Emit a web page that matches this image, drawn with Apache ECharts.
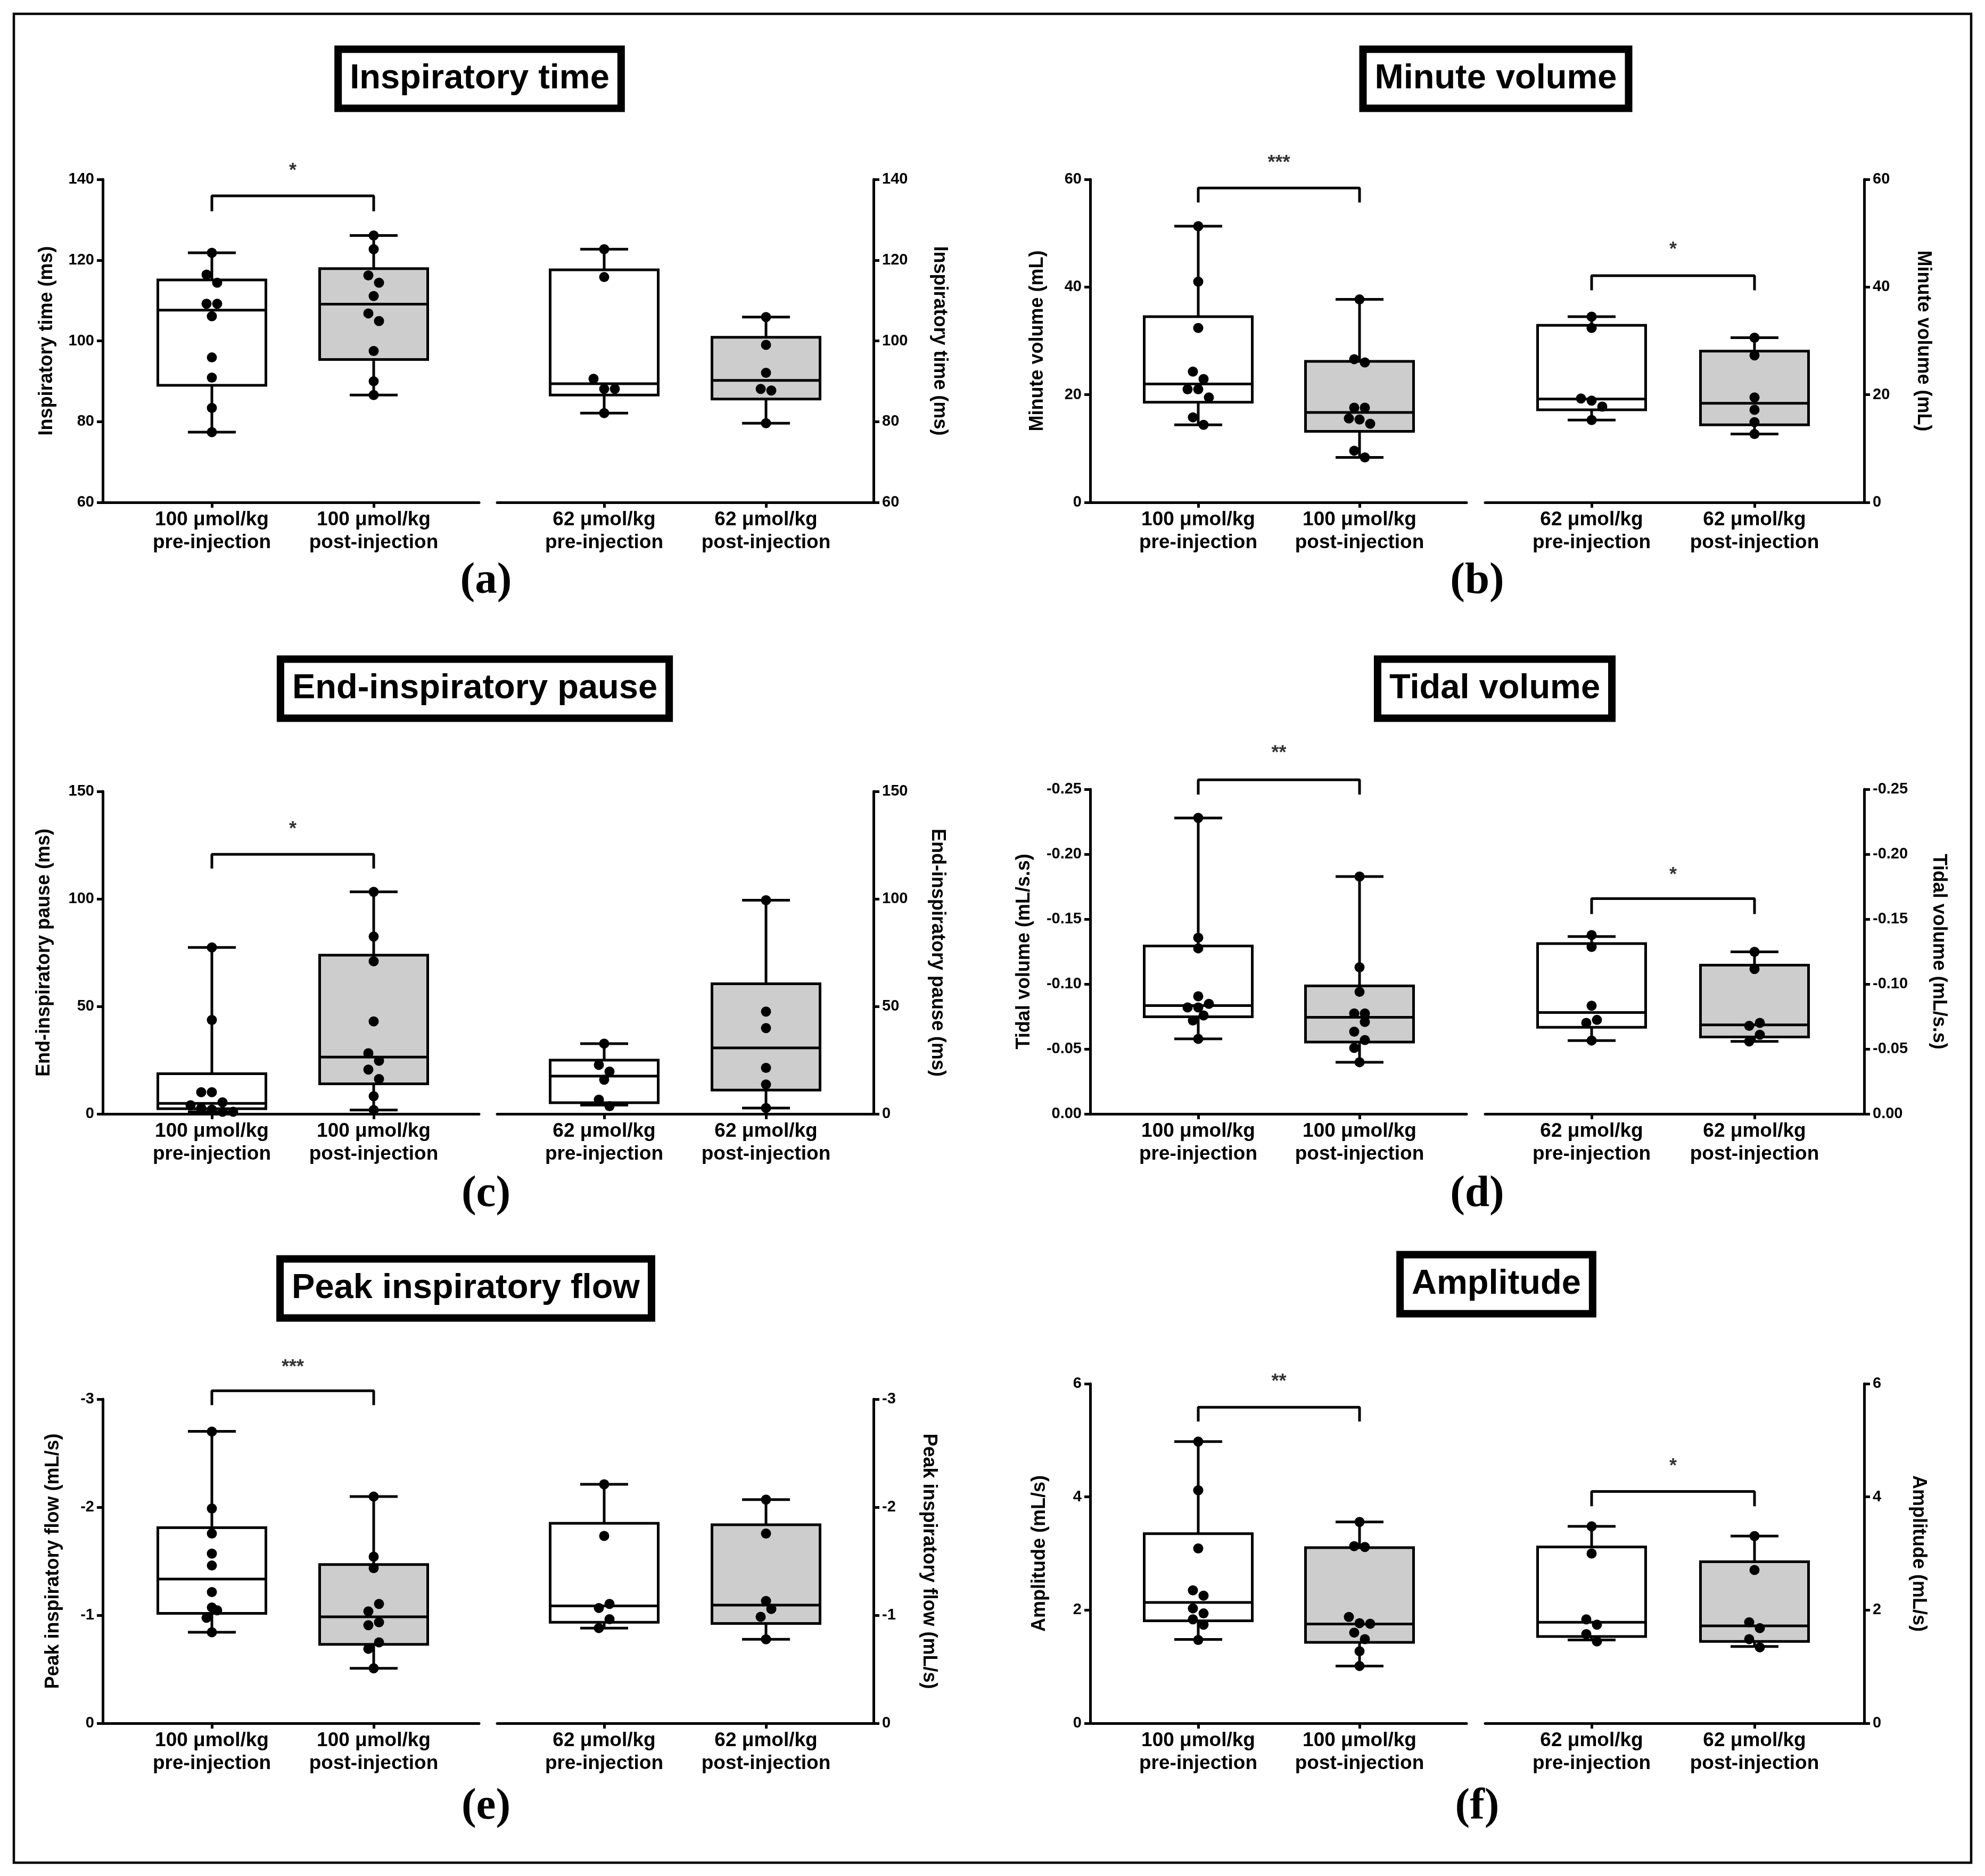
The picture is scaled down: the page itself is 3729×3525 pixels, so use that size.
<!DOCTYPE html>
<html><head><meta charset="utf-8">
<script src="https://cdn.jsdelivr.net/npm/echarts@6/dist/echarts.min.js"></script>
<style>html,body{margin:0;padding:0;background:#fff}#c{width:3729px;height:3525px}</style>
</head><body><div id="c"></div>
<script>
// ---------- categories ----------
const cats100 = ['100 μmol/kg\npre-injection', '100 μmol/kg\npost-injection'];
const cats62 = ['62 μmol/kg\npre-injection', '62 μmol/kg\npost-injection'];

// box stats: [min, Q1, median, Q3, max] for [pre, post]
// (a) Inspiratory time (ms)
const itBox100 = [[77.4, 89.0, 107.6, 115.1, 121.8], [86.6, 95.4, 109.1, 117.9, 126.1]];
const itBox62 = [[82.1, 86.6, 89.4, 117.6, 122.7], [79.6, 85.6, 90.2, 100.9, 105.9]];
const itPts100 = [[121.8, 116.4, 114.4, 109.2, 109.2, 106.1, 95.9, 90.9, 83.4, 77.4],
                  [126.1, 122.7, 116.2, 114.4, 111.1, 106.8, 104.9, 97.5, 90.0, 86.6]];
const itPts62 = [[122.7, 115.8, 90.6, 88.1, 88.1, 82.1], [105.9, 99.0, 92.1, 88.1, 87.7, 79.6]];
const itSig100 = [135.9, 132.1, 143.3, '*'];   // bracket top, leg end, star, text
const itSig62 = null;

// (b) Minute volume (mL)
const mvBox100 = [[14.4, 18.6, 22.0, 34.5, 51.3], [8.35, 13.2, 16.7, 26.2, 37.7]];
const mvBox62 = [[15.3, 17.2, 19.2, 32.9, 34.5], [12.7, 14.4, 18.4, 28.1, 30.6]];
const mvPts100 = [[51.3, 41.0, 32.4, 24.3, 22.9, 21.0, 21.0, 19.5, 15.8, 14.4],
                  [37.7, 26.6, 26.0, 17.6, 17.6, 15.6, 15.4, 14.6, 9.6, 8.35]];
const mvPts62 = [[34.5, 32.4, 19.3, 18.9, 17.8, 15.3], [30.6, 27.3, 19.5, 17.2, 14.9, 12.7]];
const mvSig100 = [58.4, 55.7, 63.9, '***'];
const mvSig62 = [42.1, 39.4, 47.8, '*'];

// (c) End-inspiratory pause (ms)
const epBox100 = [[1.0, 2.4, 4.9, 18.7, 77.4], [1.8, 14.0, 26.4, 73.8, 103.3]];
const epBox62 = [[4.1, 5.2, 17.6, 25.0, 32.7], [2.75, 11.1, 30.7, 60.5, 99.4]];
const epPts100 = [[77.4, 43.7, 10.1, 10.1, 5.4, 4.0, 2.7, 2.0, 1.0, 1.0],
                  [103.3, 82.5, 71.0, 43.0, 28.2, 24.7, 20.6, 16.2, 8.25, 1.8]];
const epPts62 = [[32.7, 22.8, 19.7, 15.9, 6.6, 3.6], [99.4, 47.6, 39.9, 21.4, 13.7, 2.75]];
const epSig100 = [120.7, 114.1, 134.7, '*'];
const epSig62 = null;

// (d) Tidal volume (mL/s.s)
const tvBox100 = [[-0.0578, -0.0748, -0.0834, -0.1293, -0.2279], [-0.0398, -0.0553, -0.0744, -0.0986, -0.1828]];
const tvBox62 = [[-0.0565, -0.0667, -0.0781, -0.1311, -0.1366], [-0.0558, -0.0592, -0.0685, -0.1145, -0.1248]];
const tvPts100 = [[-0.228, -0.1357, -0.1275, -0.0906, -0.0847, -0.082, -0.082, -0.0758, -0.0719, -0.0578],
                  [-0.1828, -0.1129, -0.094, -0.0774, -0.0774, -0.0708, -0.0633, -0.0569, -0.0508, -0.0398]];
const tvPts62 = [[-0.1377, -0.1286, -0.0833, -0.0724, -0.0701, -0.0565], [-0.1248, -0.1116, -0.0701, -0.0678, -0.061, -0.0558]];
const tvSig100 = [-0.2573, -0.2459, -0.2815, '**'];
const tvSig62 = [-0.1658, -0.1539, -0.1878, '*'];

// (e) Peak inspiratory flow (mL/s)
const pfBox100 = [[-0.842, -1.017, -1.335, -1.810, -2.702], [-0.509, -0.730, -0.985, -1.469, -2.098]];
const pfBox62 = [[-0.881, -0.935, -1.086, -1.851, -2.212], [-0.777, -0.924, -1.094, -1.838, -2.070]];
const pfPts100 = [[-2.70, -1.988, -1.756, -1.570, -1.460, -1.214, -1.072, -1.045, -0.976, -0.842],
                  [-2.098, -1.542, -1.436, -1.105, -1.036, -0.935, -0.908, -0.749, -0.689, -0.509]];
const pfPts62 = [[-2.212, -1.734, -1.105, -1.067, -0.963, -0.881], [-2.07, -1.756, -1.132, -1.058, -0.985, -0.777]];
const pfSig100 = [-3.077, -2.945, -3.34, '***'];
const pfSig62 = null;

// (f) Amplitude (mL/s)
const amBox100 = [[1.482, 1.810, 2.134, 3.350, 4.977], [1.012, 1.430, 1.753, 3.104, 3.558]];
const amBox62 = [[1.471, 1.534, 1.784, 3.115, 3.480], [1.357, 1.445, 1.722, 2.854, 3.308]];
const amPts100 = [[4.977, 4.117, 3.089, 2.348, 2.254, 2.030, 1.941, 1.837, 1.743, 1.471],
                  [3.558, 3.130, 3.115, 1.878, 1.769, 1.758, 1.602, 1.487, 1.273, 1.012]];
const amPts62 = [[3.48, 3.0, 1.837, 1.743, 1.576, 1.445], [3.308, 2.708, 1.784, 1.680, 1.487, 1.341]];
const amSig100 = [5.583, 5.332, 6.125, '**'];
const amSig62 = [4.096, 3.835, 4.628, '*'];

// axis ranges / tick labels
const titles = ['Inspiratory time', 'Minute volume', 'End-inspiratory pause', 'Tidal volume', 'Peak inspiratory flow', 'Amplitude'];
const yNames = ['Inspiratory time (ms)', 'Minute volume (mL)', 'End-inspiratory pause (ms)', 'Tidal volume (mL/s.s)', 'Peak inspiratory flow (mL/s)', 'Amplitude (mL/s)'];
const letters = ['(a)', '(b)', '(c)', '(d)', '(e)', '(f)'];
const yRanges = [[60, 140, 20], [0, 60, 20], [0, 150, 50], [-0.25, 0, 0.05], [-3, 0, 1], [0, 6, 2]];
const yInverse = [false, false, false, true, true, false];

// ---------- layout ----------
const FONT = "'Liberation Sans', Arial, sans-serif";
const COLS = [
  {axisL: 193, segLEnd: 900, segRStart: 934, axisR: 1641, cats: [398, 702, 1135, 1439], letterX: 913},
  {axisL: 2048, segLEnd: 2755, segRStart: 2790, axisR: 3502, cats: [2251, 2554, 2990, 3296], letterX: 2775}
];
const PANEL_LAYOUT = [
  {col: 0, top: 337, bottom: 944, gapL: 87, gapR: 106, tx: 901, ty: 148, ly: 1093},
  {col: 1, top: 337, bottom: 944, gapL: 81, gapR: 93, tx: 2810, ty: 148, ly: 1093},
  {col: 0, top: 1487, bottom: 2093, gapL: 92, gapR: 102, tx: 892, ty: 1294, ly: 2245},
  {col: 1, top: 1483, bottom: 2093, gapL: 106, gapR: 122, tx: 2808, ty: 1294, ly: 2245},
  {col: 0, top: 2629, bottom: 3238, gapL: 75, gapR: 86, tx: 875, ty: 2421, ly: 3396},
  {col: 1, top: 2600, bottom: 3238, gapL: 77, gapR: 84, tx: 2811, ty: 2413, ly: 3396}
];
const BOX_W = 203, CAP_W = 90, LW = 5, DOT = 19, STEP = 20;

const panelData = [
  [itBox100, itBox62, itPts100, itPts62, itSig100, itSig62],
  [mvBox100, mvBox62, mvPts100, mvPts62, mvSig100, mvSig62],
  [epBox100, epBox62, epPts100, epPts62, epSig100, epSig62],
  [tvBox100, tvBox62, tvPts100, tvPts62, tvSig100, tvSig62],
  [pfBox100, pfBox62, pfPts100, pfPts62, pfSig100, pfSig62],
  [amBox100, amBox62, amPts100, amPts62, amSig100, amSig62]
];

function swarmOffsets(values, pxPerUnit) {
  const order = values.map((v, i) => i).sort((a, b) => values[b] - values[a]);
  const rows = [];
  let cur = null;
  order.forEach(i => {
    if (cur && Math.abs(values[cur[0]] - values[i]) * pxPerUnit < DOT) cur.push(i);
    else { cur = [i]; rows.push(cur); }
  });
  const off = new Array(values.length).fill(0);
  rows.forEach(r => r.forEach((i, k) => { off[i] = (k - (r.length - 1) / 2) * STEP; }));
  return off;
}

function renderBox(params, api) {
  const x = api.value(0);
  const cx = api.coord([x, api.value(1)])[0];
  const ys = [1, 2, 3, 4, 5].map(i => api.coord([x, api.value(i)])[1]);
  const [yMin, yQ1, yMed, yQ3, yMax] = ys;
  const hw = BOX_W / 2, cw = CAP_W / 2;
  const ls = {stroke: '#000', lineWidth: LW};
  return {type: 'group', children: [
    {type: 'line', shape: {x1: cx, y1: yQ3, x2: cx, y2: yMax}, style: ls},
    {type: 'line', shape: {x1: cx, y1: yQ1, x2: cx, y2: yMin}, style: ls},
    {type: 'line', shape: {x1: cx - cw, y1: yMax, x2: cx + cw, y2: yMax}, style: ls},
    {type: 'line', shape: {x1: cx - cw, y1: yMin, x2: cx + cw, y2: yMin}, style: ls},
    {type: 'rect', shape: {x: cx - hw, y: Math.min(yQ1, yQ3), width: BOX_W, height: Math.abs(yQ1 - yQ3)},
      style: {fill: x === 0 ? '#ffffff' : '#cdcdcd', stroke: '#000', lineWidth: LW}},
    {type: 'line', shape: {x1: cx - hw, y1: yMed, x2: cx + hw, y2: yMed}, style: ls}
  ]};
}

const grids = [], xAxes = [], yAxes = [], series = [], graphics = [];

graphics.push({type: 'rect', shape: {x: 26, y: 26, width: 3677, height: 3474},
  style: {fill: 'none', stroke: '#000', lineWidth: 4.5}, silent: true});

PANEL_LAYOUT.forEach((L, p) => {
  const col = COLS[L.col];
  const [yMin, yMax, yInt] = yRanges[p];
  const inv = yInverse[p];
  const pxPerUnit = (L.bottom - L.top) / (yMax - yMin);
  const fmt = p === 3 ? (v => Math.abs(v) < 1e-9 ? '0.00' : v.toFixed(2))
            : (v => String(Math.round(v * 1000) / 1000));
  const [box100, box62, pts100, pts62, sig100, sig62] = panelData[p];
  [0, 1].forEach(s => {
    const g = grids.length;
    const gL = s === 0 ? col.axisL : col.segRStart;
    const gR = s === 0 ? col.segLEnd : col.axisR;
    const c0 = col.cats[2 * s], c1 = col.cats[2 * s + 1];
    const sp = c1 - c0;
    grids.push({left: gL, top: L.top, width: gR - gL, height: L.bottom - L.top});
    const labels = s === 0 ? cats100 : cats62;
    xAxes.push({
      gridIndex: g, type: 'value', position: 'bottom',
      min: -(c0 - gL) / sp, max: 1 + (gR - c1) / sp,
      axisLine: {show: true, onZero: false, lineStyle: {color: '#000', width: LW}},
      axisTick: {show: true, length: 10, customValues: [0, 1], lineStyle: {color: '#000', width: LW}},
      axisLabel: {show: true, customValues: [0, 1], formatter: v => labels[Math.round(v)] || '',
        margin: 11, fontSize: 37, lineHeight: 43, fontWeight: 'bold', fontFamily: FONT, color: '#000'},
      splitLine: {show: false}
    });
    yAxes.push({
      gridIndex: g, type: 'value', position: s === 0 ? 'left' : 'right',
      min: yMin, max: yMax, interval: yInt, inverse: inv,
      axisLine: {show: true, onZero: false, lineStyle: {color: '#000', width: LW}},
      axisTick: {show: true, length: 11, lineStyle: {color: '#000', width: LW}},
      axisLabel: {show: true, margin: 16, formatter: fmt, fontSize: 29, fontWeight: 'bold', fontFamily: FONT, color: '#000'},
      splitLine: {show: false},
      name: yNames[p], nameLocation: 'middle', nameGap: s === 0 ? L.gapL : L.gapR,
      nameRotate: s === 0 ? 90 : -90,
      nameTextStyle: {fontSize: 36, fontWeight: 'bold', fontFamily: FONT, color: '#000'}
    });
    const boxes = s === 0 ? box100 : box62;
    series.push({type: 'custom', xAxisIndex: g, yAxisIndex: g, z: 2, silent: true,
      renderItem: renderBox, encode: {x: 0, y: [1, 2, 3, 4, 5]},
      data: boxes.map((b, i) => [i].concat(b))});
    const pts = s === 0 ? pts100 : pts62;
    const scatterData = [];
    pts.forEach((vals, i) => {
      const off = swarmOffsets(vals, pxPerUnit);
      vals.forEach((v, k) => scatterData.push([i + off[k] / sp, v]));
    });
    series.push({type: 'scatter', xAxisIndex: g, yAxisIndex: g, z: 5, silent: true, clip: false,
      symbol: 'circle', symbolSize: DOT, itemStyle: {color: '#000', opacity: 1}, data: scatterData});
    const sig = s === 0 ? sig100 : sig62;
    if (sig) {
      series.push({type: 'line', xAxisIndex: g, yAxisIndex: g, z: 4, silent: true, clip: false,
        symbol: 'none', lineStyle: {color: '#000', width: LW},
        data: [[0, sig[1]], [0, sig[0]], [1, sig[0]], [1, sig[1]]]});
      series.push({type: 'scatter', xAxisIndex: g, yAxisIndex: g, z: 4, silent: true, clip: false,
        symbolSize: 1, itemStyle: {color: 'rgba(0,0,0,0)'},
        label: {show: true, position: 'inside', formatter: sig[3], offset: [0, 10],
          fontSize: 36, fontWeight: 'bold', fontFamily: FONT, color: '#000'},
        data: [[0.5, sig[2]]]});
    }
  });
  graphics.push({type: 'text', x: L.tx, y: L.ty, silent: true, z: 10,
    style: {text: titles[p], font: "bold 65px 'Liberation Sans', Arial, sans-serif", fill: '#000',
      align: 'center', verticalAlign: 'middle', lineHeight: 65, padding: [16, 15],
      borderColor: '#000', borderWidth: 14, backgroundColor: '#fff'}});
  graphics.push({type: 'text', x: col.letterX, y: L.ly, silent: true, z: 10,
    style: {text: letters[p], font: "bold 83px 'Liberation Serif', 'Times New Roman', serif", fill: '#000',
      align: 'center', verticalAlign: 'middle'}});
});

const chart = echarts.init(document.getElementById('c'), null, {renderer: 'canvas', width: 3729, height: 3525});
chart.setOption({
  backgroundColor: '#ffffff',
  animation: false,
  grid: grids, xAxis: xAxes, yAxis: yAxes, series: series, graphic: graphics
});
</script></body></html>
